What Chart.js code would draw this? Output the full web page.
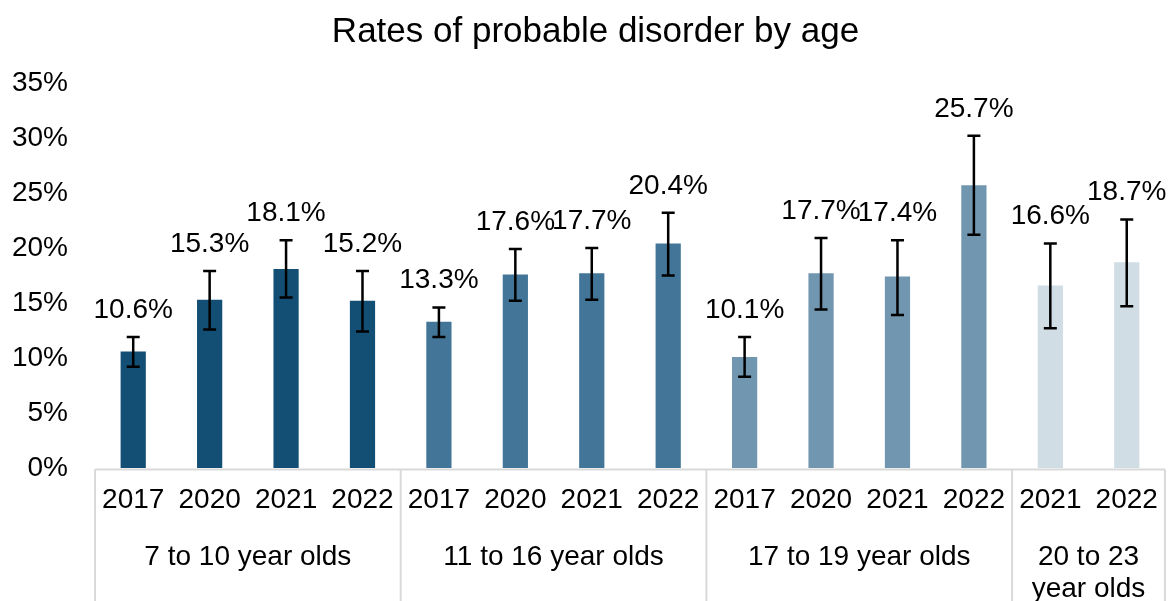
<!DOCTYPE html>
<html>
<head>
<meta charset="utf-8">
<script src="https://cdn.jsdelivr.net/npm/chart.js@4/dist/chart.umd.min.js"></script>
<style>
  html, body { margin: 0; padding: 0; background: #ffffff; }
  #wrap { width: 1173px; height: 601px; position: relative; }
</style>
</head>
<body>
<div id="wrap"><canvas id="c" width="1173" height="601"></canvas></div>
<script>
// ---- data ----
const chartTitle = 'Rates of probable disorder by age';
const years = ['2017','2020','2021','2022','2017','2020','2021','2022','2017','2020','2021','2022','2021','2022'];
const groupLabels = [['7 to 10 year olds'], ['11 to 16 year olds'], ['17 to 19 year olds'], ['20 to 23', 'year olds']];
const groupSizes = [4, 4, 4, 2];
const rates = [10.6, 15.3, 18.1, 15.2, 13.3, 17.6, 17.7, 20.4, 10.1, 17.7, 17.4, 25.7, 16.6, 18.7];
const lowerCI = [9.2, 12.6, 15.5, 12.4, 11.9, 15.2, 15.3, 17.5, 8.3, 14.4, 13.9, 21.2, 12.7, 14.7];
const upperCI = [11.9, 17.9, 20.7, 17.9, 14.6, 19.9, 20.0, 23.2, 11.9, 20.9, 20.7, 30.2, 20.4, 22.6];
const yTicks = [0, 5, 10, 15, 20, 25, 30, 35];
const groupColors = ['#134F74', '#427597', '#7196AF', '#D0DDE5'];

const FONT = '"Liberation Sans", Arial, sans-serif';

// bar colours built from group membership
const barColors = [];
groupSizes.forEach((n, g) => { for (let k = 0; k < n; k++) barColors.push(groupColors[g]); });

const overlay = {
  id: 'overlay',
  afterDatasetsDraw(chart) {
    const { ctx, chartArea, scales: { x, y } } = chart;
    ctx.save();
    // title
    ctx.fillStyle = '#000';
    ctx.textAlign = 'center';
    ctx.textBaseline = 'middle';
    ctx.font = '35px ' + FONT;
    ctx.fillText(chartTitle, chart.width / 2 + 9, 32);
    // error bars + value labels
    ctx.strokeStyle = '#000';
    ctx.lineWidth = 2.5;
    ctx.font = '28px ' + FONT;
    rates.forEach((v, i) => {
      const cx = x.getPixelForValue(i);
      const yt = y.getPixelForValue(upperCI[i]);
      const yb = y.getPixelForValue(lowerCI[i]);
      ctx.beginPath();
      ctx.moveTo(cx, yt); ctx.lineTo(cx, yb);
      ctx.moveTo(cx - 6.5, yt); ctx.lineTo(cx + 6.5, yt);
      ctx.moveTo(cx - 6.5, yb); ctx.lineTo(cx + 6.5, yb);
      ctx.stroke();
      ctx.fillText(v.toFixed(1) + '%', cx, yt - 27);
    });
    // category group boxes
    const half = (x.getPixelForValue(1) - x.getPixelForValue(0)) / 2;
    const base = chartArea.bottom + 1.5;
    ctx.strokeStyle = '#D9D9D9';
    ctx.lineWidth = 2;
    ctx.beginPath();
    ctx.moveTo(x.getPixelForValue(0) - half, base);
    ctx.lineTo(x.getPixelForValue(rates.length - 1) + half, base);
    ctx.stroke();
    let start = 0;
    const bounds = [x.getPixelForValue(0) - half];
    groupSizes.forEach(n => { start += n; bounds.push(x.getPixelForValue(start - 1) + half); });
    bounds.forEach(bx => {
      ctx.beginPath();
      ctx.moveTo(bx, base);
      ctx.lineTo(bx, chart.height);
      ctx.stroke();
    });
    groupLabels.forEach((lines, g) => {
      const cx = (bounds[g] + bounds[g + 1]) / 2;
      const y0 = base + 88;
      lines.forEach((t, j) => ctx.fillText(t, cx, y0 + j * 32));
    });
    ctx.restore();
  }
};

new Chart(document.getElementById('c'), {
  type: 'bar',
  data: {
    labels: years,
    datasets: [{
      data: rates,
      backgroundColor: barColors,
      borderWidth: 0,
      barPercentage: 0.33,
      categoryPercentage: 1.0
    }]
  },
  options: {
    responsive: false,
    animation: false,
    layout: { padding: { left: 0, right: 3, top: 83, bottom: 0 } },
    plugins: {
      legend: { display: false },
      tooltip: { enabled: false },
      title: { display: false }
    },
    scales: {
      x: {
        type: 'category',
        offset: true,
        grid: { display: false, drawTicks: false },
        border: { display: false },
        ticks: {
          color: '#000',
          font: { family: FONT, size: 28 },
          autoSkip: false,
          maxRotation: 0,
          padding: 15
        },
        afterFit(s) { s.height = 133; }
      },
      y: {
        min: 0,
        max: 35,
        grid: { display: false, drawTicks: false },
        border: { display: false },
        afterBuildTicks(s) { s.ticks = yTicks.map(v => ({ value: v })); },
        ticks: {
          color: '#000',
          font: { family: FONT, size: 28 },
          padding: 27,
          callback: v => v + '%'
        },
        afterFit(s) { s.width = 95; }
      }
    }
  },
  plugins: [overlay]
});
</script>
</body>
</html>
